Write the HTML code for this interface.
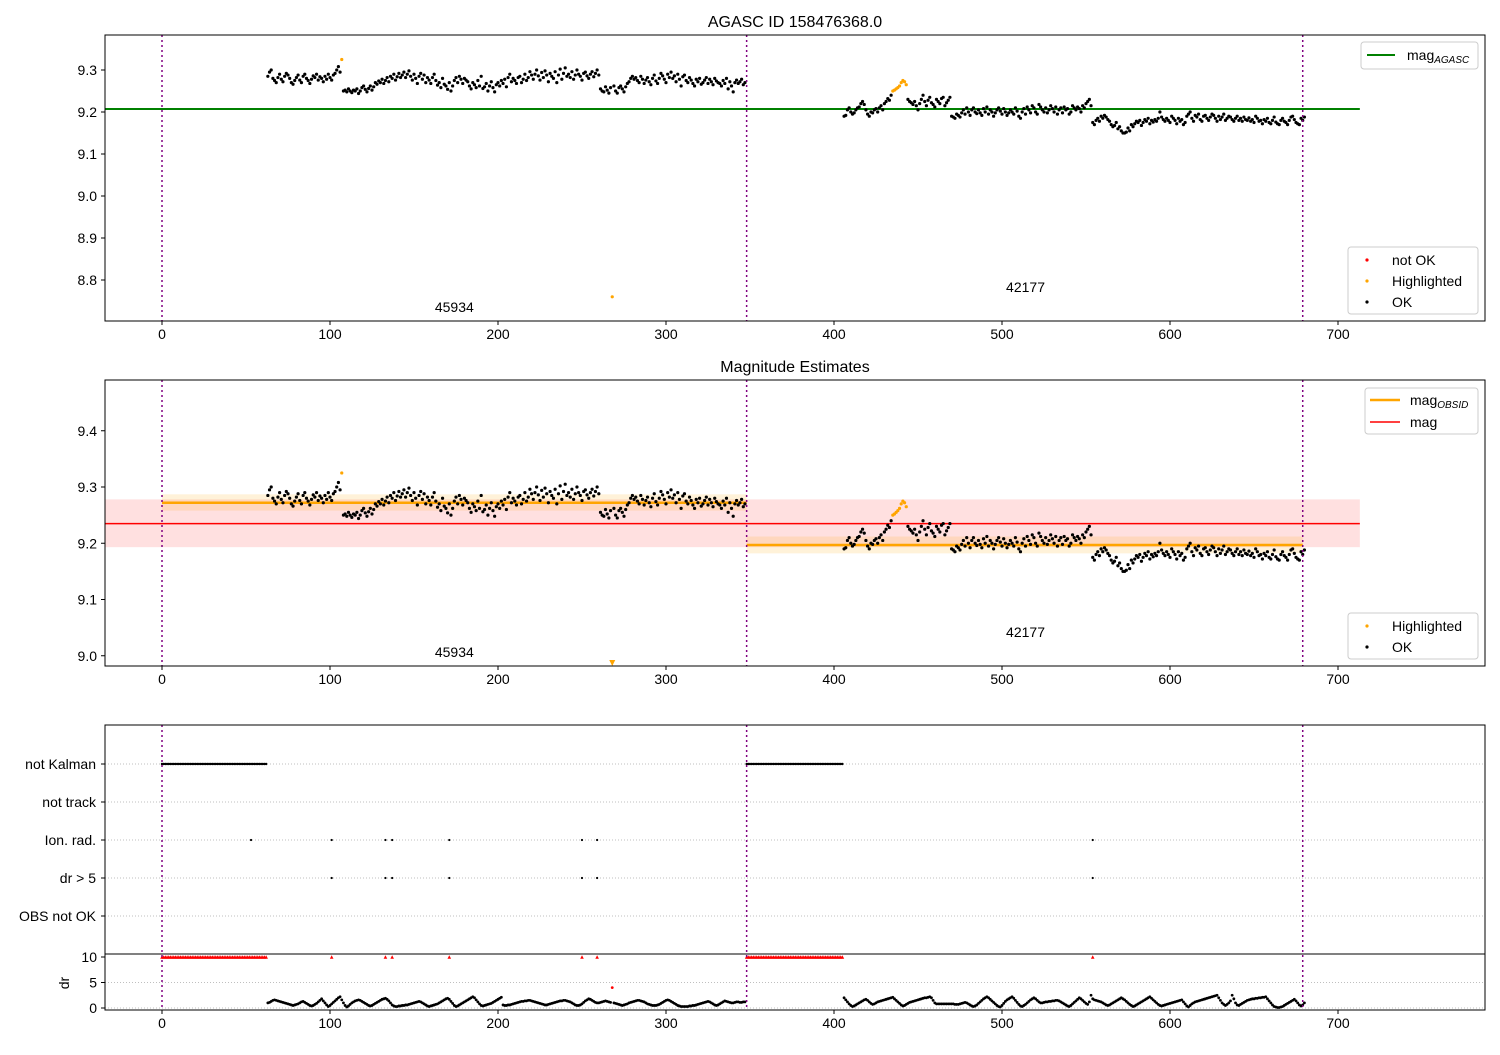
<!DOCTYPE html>
<html><head><meta charset="utf-8"><style>
body{margin:0;background:#fff}
svg{font-family:"Liberation Sans","DejaVu Sans",sans-serif}
</style></head><body>
<svg id="c" width="1500" height="1050" xmlns="http://www.w3.org/2000/svg"></svg>
<script>
// ---- data ----
const seg1Start = 63;
const seg1Mag = [285,295,300,280,275,270,282,290,278,272,285,292,288,280,270,266,275,282,288,276,270,285,290,280,275,268,278,286,282,290,276,284,280,272,285,278,290,282,276,288,292,300,308,295,325,250,252,248,255,250,246,252,250,255,244,250,258,262,254,248,256,262,252,260,270,266,274,270,278,268,275,282,272,285,280,290,276,284,292,282,288,295,282,290,298,285,276,290,280,268,285,292,278,288,270,282,276,268,282,290,275,264,270,258,280,266,262,254,270,250,262,275,282,270,285,278,268,280,276,272,262,255,270,265,258,275,262,285,256,260,268,250,262,272,258,248,265,270,262,275,268,278,260,282,290,272,280,275,268,282,285,270,278,290,275,282,296,288,278,290,300,286,276,294,282,298,288,272,292,285,280,296,270,288,302,278,292,305,285,290,282,296,278,288,300,290,285,276,292,295,286,280,290,296,284,292,300,288,255,250,248,260,252,245,258,-240,262,250,245,258,262,255,248,260,268,272,280,285,278,282,275,270,285,278,268,276,282,272,265,280,288,274,268,280,292,286,278,270,290,282,295,280,286,272,290,278,262,284,288,275,270,282,276,268,262,278,272,280,266,270,276,282,268,278,272,265,280,274,270,268,262,275,268,280,255,272,262,248,270,276,268,272,278,265,270];
const seg2Start = 406;
const seg2Mag = [190,192,205,210,200,195,198,205,210,212,220,225,218,205,195,190,200,198,205,208,200,210,215,205,220,225,232,228,240,250,252,255,258,262,270,275,272,265,230,225,222,218,225,215,205,220,230,240,225,215,228,235,222,218,212,230,225,220,232,235,215,222,228,235,190,188,185,195,192,188,198,205,195,210,200,192,205,210,200,196,205,198,192,208,200,212,195,205,200,190,198,205,210,202,195,208,200,192,198,205,200,195,210,202,190,185,200,208,195,212,205,198,215,210,200,195,218,212,205,200,210,198,205,215,208,200,212,195,205,210,198,212,205,208,195,200,215,210,205,212,208,200,215,210,220,225,230,215,175,170,180,185,178,190,185,192,188,182,178,170,165,168,175,160,165,155,150,150,152,162,155,170,165,172,178,175,180,168,175,182,178,185,172,180,176,182,178,185,200,188,182,178,185,180,175,190,185,180,172,185,178,182,170,175,190,195,200,185,178,192,188,195,182,178,190,192,185,180,188,195,192,185,178,190,182,188,195,180,185,190,188,182,178,185,190,180,185,178,188,182,180,186,178,182,175,190,185,178,180,172,182,178,185,175,172,180,188,176,172,170,180,185,178,175,170,180,188,190,182,175,172,170,185,180,188];
const highlighted = [107,268,435,436,437,438,439,440,441,442,443];
const seg1Dr = [1.0,1.1,1.3,1.5,1.6,1.5,1.4,1.3,1.2,1.1,1.0,0.9,0.8,0.7,0.6,0.5,0.6,0.7,0.8,1.0,1.2,1.3,1.1,0.9,0.7,0.5,0.4,0.5,0.7,0.9,1.2,1.5,1.8,1.4,1.0,0.6,0.3,0.5,0.8,1.1,1.4,1.7,2.0,2.2,1.6,1.0,0.5,0.2,0.4,0.7,1.0,1.2,1.4,1.5,1.6,1.5,1.3,1.1,0.9,0.7,0.5,0.4,0.5,0.7,0.9,1.1,1.3,1.5,1.7,1.8,1.9,1.7,1.4,1.0,0.6,0.4,0.3,0.3,0.4,0.4,0.5,0.5,0.6,0.6,0.7,0.8,0.9,1.0,1.1,1.2,1.3,1.2,1.0,0.8,0.6,0.4,0.3,0.4,0.5,0.6,0.7,0.8,1.0,1.2,1.4,1.6,1.8,1.9,1.7,1.3,0.9,0.5,0.3,0.4,0.6,0.8,1.0,1.2,1.4,1.6,1.8,2.0,2.2,2.0,1.6,1.2,0.8,0.5,0.4,0.5,0.6,0.7,0.8,0.9,1.1,1.3,1.5,1.7,1.9,2.1,0.6,0.5,0.5,0.6,0.6,0.7,0.8,0.9,1.0,1.1,1.2,1.3,1.3,1.4,1.4,1.5,1.5,1.4,1.3,1.2,1.1,1.0,0.9,0.8,0.7,0.6,0.6,0.7,0.8,0.9,1.0,1.1,1.2,1.3,1.4,1.4,1.5,1.5,1.4,1.3,1.2,1.0,0.8,0.6,0.5,0.5,0.6,0.8,1.1,1.4,1.6,1.8,1.7,1.5,1.3,1.1,1.0,1.0,1.1,1.2,1.3,1.4,1.3,1.2,1.1,4.0,1.0,0.9,0.8,0.7,0.6,0.5,0.6,0.7,0.8,1.0,1.1,1.2,1.3,1.4,1.5,1.5,1.4,1.3,1.2,1.0,0.8,0.7,0.6,0.5,0.5,0.5,0.6,0.7,0.9,1.1,1.3,1.5,1.6,1.5,1.3,1.1,0.9,0.7,0.5,0.4,0.3,0.3,0.3,0.3,0.3,0.4,0.4,0.5,0.5,0.6,0.7,0.8,0.9,1.0,1.1,1.2,1.3,1.2,1.0,0.8,0.6,0.5,0.6,0.8,1.0,1.2,1.4,1.3,1.2,1.1,1.0,1.0,1.1,1.2,1.2,1.1,1.1,1.2,1.2];
const seg2Dr = [2.0,1.6,1.2,0.8,0.5,0.3,0.4,0.6,0.8,1.0,1.2,1.4,1.6,1.7,1.5,1.2,0.9,0.7,0.8,1.0,1.2,1.3,1.4,1.5,1.6,1.7,1.8,1.9,2.0,2.1,1.8,1.5,1.2,0.9,0.6,0.4,0.5,0.7,0.9,1.1,1.2,1.3,1.4,1.5,1.6,1.7,1.8,1.9,2.0,2.0,2.1,2.2,2.0,1.5,1.0,0.8,0.8,0.8,0.8,0.8,0.8,0.8,0.8,0.8,0.8,0.8,0.7,0.7,0.7,0.8,0.9,1.0,1.1,1.0,0.8,0.6,0.4,0.3,0.4,0.6,0.9,1.2,1.5,1.8,2.0,2.2,2.0,1.7,1.4,1.1,0.8,0.5,0.3,0.2,0.5,0.9,1.3,1.6,1.8,2.0,2.2,1.9,1.5,1.1,0.7,0.4,0.3,0.5,0.7,1.0,1.3,1.6,1.8,2.0,1.8,1.5,1.2,1.0,1.0,1.1,1.2,1.2,1.3,1.3,1.4,1.4,1.5,1.5,1.4,1.2,1.0,0.8,0.6,0.4,0.3,0.5,0.8,1.1,1.4,1.7,2.0,1.8,1.5,1.2,0.9,0.7,1.2,2.5,1.8,1.6,1.5,1.4,1.3,1.2,1.0,0.8,0.6,0.5,0.6,0.8,1.0,1.2,1.4,1.6,1.8,2.0,1.8,1.6,1.3,1.0,0.7,0.5,0.3,0.4,0.6,0.8,1.0,1.2,1.4,1.6,1.8,2.0,2.2,1.9,1.6,1.3,1.0,0.7,0.5,0.4,0.5,0.6,0.7,0.8,0.9,1.0,1.1,1.2,1.3,1.4,1.5,1.6,1.2,0.8,0.4,0.2,0.5,0.8,1.0,1.2,1.3,1.4,1.5,1.6,1.7,1.8,1.9,2.0,2.1,2.2,2.3,2.4,2.5,2.0,1.5,1.0,0.7,0.5,0.7,1.0,1.4,2.5,1.8,1.0,0.6,0.5,0.7,0.9,1.1,1.3,1.5,1.6,1.7,1.8,1.8,1.9,1.9,2.0,2.0,2.1,2.1,2.2,1.8,1.4,1.0,0.6,0.3,0.2,0.1,0.1,0.2,0.3,0.5,0.7,0.9,1.1,1.3,1.5,1.7,1.4,1.0,0.6,0.4,0.6,1.0];
const notKalmanRanges = [[0,62],[348,405]];
const ionRad = [53,101,133,137,171,250,259,554];
const drGt5 = [101,133,137,171,250,259,554];
const obsBoundaries = [0,348,679];
const obsids = ["45934","42177"];
const obsLabelT = [174,514];
const magAgasc = 9.207;
const magAll = 9.235, magAllLo = 9.193, magAllHi = 9.278;
const obsMag = [9.272,9.197], obsLo=[9.258,9.182], obsHi=[9.287,9.212];
const xTicks = [0,100,200,300,400,500,600,700];
const y1Ticks = [8.8,8.9,9.0,9.1,9.2,9.3];
const y2Ticks = [9.0,9.1,9.2,9.3,9.4];
const flagLabels = ["not Kalman","not track","Ion. rad.","dr > 5","OBS not OK"];
const drTicks = [0,5,10];

// ---- scales ----
const X = t => 162 + t*1.68;
const Y1 = m => 70 + (9.3-m)*420;
const Y2 = m => 487 + (9.3-m)*562.5;
const YD = d => 1008 - d*5.1;
const flagY = [764,802,840,878,916];
const L=105,R=1485;
const FS=14;
const svg=document.getElementById('c');
const NS='http://www.w3.org/2000/svg';
function el(tag,a,parent){const e=document.createElementNS(NS,tag);for(const k in a)e.setAttribute(k,a[k]);(parent||svg).appendChild(e);return e;}
function txt(s,a,parent){const e=el('text',a,parent);e.textContent=s;return e;}

const pts=[];
seg1Mag.forEach((v,i)=>pts.push({t:seg1Start+i,m:9+v/1000,dr:seg1Dr[i]}));
seg2Mag.forEach((v,i)=>pts.push({t:seg2Start+i,m:9+v/1000,dr:seg2Dr[i]}));
const hl=new Set(highlighted);

function axes(top,bot,name){
  const g=el('g',{});
  
  
  xTicks.forEach(t=>{
    el('line',{x1:X(t),x2:X(t),y1:bot,y2:bot+4,stroke:'#000'},g);
    txt(String(t),{x:X(t),y:bot+18,'font-size':FS,'text-anchor':'middle'},g);
  });
}
function frame(top,bot,name){
  const r=el('rect',{x:L,y:top,width:R-L,height:bot-top,fill:'none',stroke:'#000','stroke-width':1});
  
  
}
function vlines(top,bot){
  obsBoundaries.forEach(t=>{
    const l=el('line',{x1:X(t),x2:X(t),y1:top,y2:bot,stroke:'#800080','stroke-width':1.5,'stroke-dasharray':'2,3'});
    
    
  });
}
function yticks(ticks,Yf,fmt,name){
  const g=el('g',{});
  
  
  ticks.forEach(v=>{
    el('line',{x1:L-4,x2:L,y1:Yf(v),y2:Yf(v),stroke:'#000'},g);
    txt(fmt(v),{x:L-8,y:Yf(v)+5,'font-size':FS,'text-anchor':'end'},g);
  });
}
function legendBox(x,y,w,h,name){
  const r=el('rect',{x:x,y:y,width:w,height:h,rx:3,fill:'#fff','fill-opacity':0.8,stroke:'#ccc'});
  
  
}

// ===== Panel 1 =====
txt('AGASC ID 158476368.0',{x:795,y:27,'font-size':16,'text-anchor':'middle',});
const clip1=el('clipPath',{id:'cp1'});el('rect',{x:L,y:35,width:R-L,height:286},clip1);
const p1=el('g',{'clip-path':'url(#cp1)'});


const ag=el('line',{x1:L,x2:X(713),y1:Y1(magAgasc),y2:Y1(magAgasc),stroke:'#008000','stroke-width':2},p1);


pts.forEach(p=>{
  const c=el('circle',{cx:X(p.t),cy:Y1(p.m),r:1.6,fill:hl.has(p.t)?'#ffa500':'#000'},p1);
  
  
});
vlines(35,321);
obsids.forEach((s,i)=>txt(s,{x:X(obsLabelT[i]),y:i==0?312:292,'font-size':FS,'text-anchor':'middle',}));
frame(35,321,'panel1');
axes(35,321,'panel1');
yticks(y1Ticks,Y1,v=>v.toFixed(1),'panel1-y-ticks');
legendBox(1361,42,117,27,'legend-agasc');
el('line',{x1:1367,x2:1395,y1:55,y2:55,stroke:'#008000','stroke-width':2});
const t1=txt('mag',{x:1407,y:60,'font-size':FS});
const s1=el('tspan',{'font-size':10,'font-style':'italic',dy:3},t1);s1.textContent='AGASC';
legendBox(1348,247,130,67,'legend-status');
[['not OK','#f00',260],['Highlighted','#ffa500',281],['OK','#000',302]].forEach(([s,c,y])=>{
  el('circle',{cx:1367,cy:y,r:1.6,fill:c});
  txt(s,{x:1392,y:y+5,'font-size':FS,});
});

// ===== Panel 2 =====
txt('Magnitude Estimates',{x:795,y:372,'font-size':16,'text-anchor':'middle',});
const clip2=el('clipPath',{id:'cp2'});el('rect',{x:L,y:380,width:R-L,height:286},clip2);
const p2=el('g',{'clip-path':'url(#cp2)'});


const band=el('rect',{x:L,y:Y2(magAllHi),width:X(713)-L,height:Y2(magAllLo)-Y2(magAllHi),fill:'#ff0000','fill-opacity':0.12},p2);


[[0,348],[348,679]].forEach(([a,b],i)=>{
  const r=el('rect',{x:X(a),y:Y2(obsHi[i]),width:X(b)-X(a),height:Y2(obsLo[i])-Y2(obsHi[i]),fill:'#ffa500','fill-opacity':0.15},p2);
  
  
  const l=el('line',{x1:X(a),x2:X(b),y1:Y2(obsMag[i]),y2:Y2(obsMag[i]),stroke:'#ffa500','stroke-width':2.5},p2);
  
  
});
const ml=el('line',{x1:L,x2:X(713),y1:Y2(magAll),y2:Y2(magAll),stroke:'#f00','stroke-width':1.5},p2);


pts.forEach(p=>{
  if(p.m<8.98){
    const x=X(p.t);
    const tr=el('polygon',{points:`${x-3},660 ${x+3},660 ${x},666`,fill:'#ffa500'},p2);
    
    
    return;
  }
  const c=el('circle',{cx:X(p.t),cy:Y2(p.m),r:1.6,fill:hl.has(p.t)?'#ffa500':'#000'},p2);
  
  
});
vlines(380,666);
obsids.forEach((s,i)=>txt(s,{x:X(obsLabelT[i]),y:i==0?657:637,'font-size':FS,'text-anchor':'middle',}));
frame(380,666,'panel2');
axes(380,666,'panel2');
yticks(y2Ticks,Y2,v=>v.toFixed(1),'panel2-y-ticks');
legendBox(1365,388,113,46,'legend-mags');
el('line',{x1:1370,x2:1400,y1:400,y2:400,stroke:'#ffa500','stroke-width':2.5});
const t2=txt('mag',{x:1410,y:405,'font-size':FS});
const s2=el('tspan',{'font-size':10,'font-style':'italic',dy:3},t2);s2.textContent='OBSID';
el('line',{x1:1370,x2:1400,y1:422,y2:422,stroke:'#f00','stroke-width':1.5});
txt('mag',{x:1410,y:427,'font-size':FS});
legendBox(1348,613,130,46,'legend-status-2');
[['Highlighted','#ffa500',626],['OK','#000',647]].forEach(([s,c,y])=>{
  el('circle',{cx:1367,cy:y,r:1.6,fill:c});
  txt(s,{x:1392,y:y+5,'font-size':FS,});
});

// ===== Panel 3 =====
flagY.forEach((y,i)=>{
  el('line',{x1:L,x2:R,y1:y,y2:y,stroke:'#aaa','stroke-width':0.8,'stroke-dasharray':'1,2'});
  el('line',{x1:L-4,x2:L,y1:y,y2:y,stroke:'#000'});
  txt(flagLabels[i],{x:L-9,y:y+5,'font-size':FS,'text-anchor':'end',});
});
[0,5].forEach(d=>el('line',{x1:L,x2:R,y1:YD(d),y2:YD(d),stroke:'#aaa','stroke-width':0.8,'stroke-dasharray':'1,2'}));
const fg=el('g',{});


notKalmanRanges.forEach(([a,b])=>{for(let t=a;t<=b;t++){el('circle',{cx:X(t),cy:flagY[0],r:1.2,fill:'#000'},fg);
  el('polygon',{points:`${X(t)-1.8},${YD(10)+1.8} ${X(t)+1.8},${YD(10)+1.8} ${X(t)},${YD(10)-1.8}`,fill:'#f00'},fg);}});
ionRad.forEach(t=>el('circle',{cx:X(t),cy:flagY[2],r:1.1,fill:'#000'},fg));
drGt5.forEach(t=>{el('circle',{cx:X(t),cy:flagY[3],r:1.1,fill:'#000'},fg);
  el('polygon',{points:`${X(t)-1.8},${YD(10)+1.8} ${X(t)+1.8},${YD(10)+1.8} ${X(t)},${YD(10)-1.8}`,fill:'#f00'},fg);});
const dg=el('g',{});


pts.forEach(p=>{
  const c=el('circle',{cx:X(p.t),cy:YD(p.dr),r:1.4,fill:p.t==268?'#f00':'#000'},dg);
  
  
});
vlines(725,1010);
el('line',{x1:L,x2:R,y1:954,y2:954,stroke:'#000','stroke-width':1});
frame(725,1010,'panel3');
axes(725,1010,'panel3');
drTicks.forEach(d=>{el('line',{x1:L-4,x2:L,y1:YD(d),y2:YD(d),stroke:'#000'});
  txt(String(d),{x:L-8,y:YD(d)+5,'font-size':FS,'text-anchor':'end'});});
txt('dr',{x:69,y:983,'font-size':FS,'text-anchor':'middle',transform:'rotate(-90 69 983)',});
</script>
</body></html>
